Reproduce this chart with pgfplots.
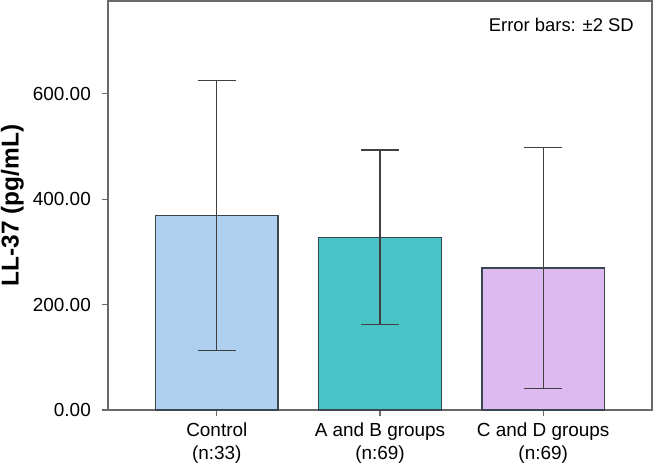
\documentclass[border=0pt]{standalone}
\usepackage{fontspec}
\setmainfont{Liberation Sans}
\usepackage{pgfplots}
\pgfplotsset{compat=1.18}
\definecolor{barA}{HTML}{AECFEE}
\definecolor{barB}{HTML}{49C3C6}
\definecolor{barC}{HTML}{DDBAF0}
\definecolor{edgec}{HTML}{3A4650}
\definecolor{errc}{HTML}{404040}
\definecolor{framec}{HTML}{6A6A6A}
\begin{document}
\begin{tikzpicture}
\begin{axis}[
  scale only axis,
  width=544bp, height=409bp,
  xmin=-0.6667, xmax=2.6667,
  ymin=0, ymax=776,
  ybar, bar width=122.4bp,
  axis line style={draw=framec, line width=1.1bp},
  xtick={0,1,2},
  xticklabels={{Control\\(n:33)},{A and B groups\\(n:69)},{C and D groups\\(n:69)}},
  ytick={0,200,400,600},
  tick align=outside,
  major tick length=6bp,
  tick style={draw=framec, line width=1.1bp},
  xtick pos=bottom, ytick pos=left,
  tick label style={font=\fontsize{19}{23}\selectfont},
  xticklabel style={align=center, inner sep=0pt, yshift=-7bp},
  yticklabel style={inner sep=0pt, xshift=-11bp},
  /pgf/number format/.cd, fixed, fixed zerofill, precision=2, 1000 sep={}, assume math mode=true,
  /pgfplots/.cd,
  ylabel={LL-37 (pg/mL)},
  ylabel style={font=\fontsize{24.5}{27}\selectfont\bfseries, at={(axis description cs:-0.1544,0.5)}, anchor=south, inner sep=0pt},
  error bars/y dir=both,
  error bars/y explicit,
  error bars/error bar style={draw=errc, line width=1.2bp},
  error bars/error mark options={draw=errc, line width=1.2bp, mark size=18.8bp, rotate=90},
]
\addplot[fill=barA, draw=edgec, line width=1.2bp, bar shift=0pt] coordinates {(0,368.5) +- (0,256.3)};
\addplot[fill=barB, draw=edgec, line width=1.2bp, bar shift=0pt] coordinates {(1,327.6) +- (0,165.7)};
\addplot[fill=barC, draw=edgec, line width=1.2bp, bar shift=0pt] coordinates {(2,269.4) +- (0,229.0)};
\node[anchor=base east, inner sep=0pt, font=\fontsize{18.5}{22}\selectfont] at ([xshift=-18bp,yshift=-31bp]rel axis cs:1,1) {Error bars: ±2 SD};
\end{axis}
\pgfresetboundingbox
\path (current axis.south west) ++(-108bp,-56bp) rectangle ++(654bp,466bp);
\end{tikzpicture}
\end{document}
